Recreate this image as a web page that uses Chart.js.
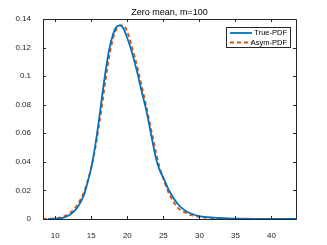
<!DOCTYPE html>
<html>
<head>
<meta charset="utf-8">
<script src="https://cdn.jsdelivr.net/npm/chart.js@4.4.1/dist/chart.umd.min.js"></script>
<style>
  html, body { margin: 0; padding: 0; background: #fff; }
  #wrap { width: 327px; height: 245px; }
</style>
</head>
<body>
<div id="wrap"><canvas id="myChart" width="327" height="245"></canvas></div>
<script>
// Chart values
const titleText = 'Zero mean, m=100';
const seriesNames = ['True-PDF', 'Asym-PDF'];

const trueX = [9, 10, 11, 12, 13, 14, 14.5, 15, 15.5, 16, 16.5, 17, 17.5, 18, 18.5, 19, 19.5, 20, 20.5, 21, 21.5, 22, 22.5, 23, 23.5, 24, 24.5, 25, 25.5, 26, 27, 28, 29, 30, 32, 34, 36, 38, 40, 43.4];
const trueY = [0, 0.0002, 0.0008, 0.0028, 0.0075, 0.017, 0.026, 0.036, 0.050, 0.067, 0.086, 0.104, 0.119, 0.129, 0.1345, 0.1355, 0.133, 0.1265, 0.119, 0.110, 0.100, 0.089, 0.079, 0.067, 0.054, 0.042, 0.034, 0.029, 0.023, 0.018, 0.0105, 0.006, 0.0035, 0.002, 0.0009, 0.0004, 0.0002, 0.0001, 0.00005, 0.00001];

const asymX = [8.3, 9, 10, 11, 12, 13, 14, 14.5, 15, 15.5, 16, 16.5, 17, 17.5, 18, 18.5, 19, 19.5, 20, 20.5, 21, 21.5, 22, 22.5, 23, 23.5, 24, 24.5, 25, 25.5, 26, 27, 28, 29, 30, 32, 34, 36, 40, 43.4];
const asymY = [0, 0.0001, 0.0005, 0.0015, 0.004, 0.0095, 0.019, 0.027, 0.036, 0.048, 0.063, 0.080, 0.098, 0.114, 0.126, 0.133, 0.1355, 0.1355, 0.131, 0.123, 0.114, 0.104, 0.093, 0.082, 0.070, 0.058, 0.046, 0.036, 0.028, 0.021, 0.0155, 0.008, 0.0045, 0.0025, 0.0015, 0.0006, 0.0002, 0.0001, 0, 0];

const xTicks = [10, 15, 20, 25, 30, 35, 40];
const yTicks = [0, 0.02, 0.04, 0.06, 0.08, 0.1, 0.12, 0.14];
const xRange = [8.3, 43.4];
const yRange = [0, 0.14];

const axisColor = '#262626';
const fontFamily = '"Liberation Sans", Arial, sans-serif';

function toPoints(xs, ys) {
    return xs.map((x, i) => ({ x: x, y: ys[i] }));
}

// box, inward ticks, title and legend drawn like MATLAB
const matlabAxes = {
    id: 'matlabAxes',
    afterDraw(chart) {
        const ctx = chart.ctx;
        const a = chart.chartArea;
        const xs = chart.scales.x;
        const ys = chart.scales.y;
        ctx.save();
        ctx.strokeStyle = axisColor;
        ctx.lineWidth = 1;
        ctx.beginPath();
        ctx.rect(Math.round(a.left) + 0.5, Math.round(a.top) + 0.5, Math.round(a.right - a.left), Math.round(a.bottom - a.top));
        ctx.stroke();

        const tl = 3;
        ctx.beginPath();
        xTicks.forEach(v => {
            const px = Math.round(xs.getPixelForValue(v)) + 0.5;
            ctx.moveTo(px, a.bottom); ctx.lineTo(px, a.bottom - tl);
            ctx.moveTo(px, a.top); ctx.lineTo(px, a.top + tl);
        });
        yTicks.forEach(v => {
            const py = Math.round(ys.getPixelForValue(v)) + 0.5;
            ctx.moveTo(a.left, py); ctx.lineTo(a.left + tl, py);
            ctx.moveTo(a.right, py); ctx.lineTo(a.right - tl, py);
        });
        ctx.stroke();

        // title
        ctx.fillStyle = '#000';
        ctx.font = '9px ' + fontFamily;
        ctx.textAlign = 'center';
        ctx.textBaseline = 'bottom';
        ctx.fillText(titleText, (a.left + a.right) / 2, a.top - 2);

        // legend
        const lx = 226, ly = 27, lw = 64, lh = 20;
        ctx.fillStyle = '#fff';
        ctx.fillRect(lx, ly, lw, lh);
        ctx.strokeStyle = axisColor;
        ctx.strokeRect(lx + 0.5, ly + 0.5, lw, lh);
        ctx.font = '7.5px ' + fontFamily;
        ctx.textAlign = 'right';
        ctx.textBaseline = 'middle';
        chart.data.datasets.forEach((ds, i) => {
            const yy = ly + 6 + i * 9.5;
            ctx.beginPath();
            ctx.strokeStyle = ds.borderColor;
            ctx.lineWidth = ds.borderWidth;
            ctx.setLineDash(ds.borderDash || []);
            ctx.moveTo(lx + 4, yy);
            ctx.lineTo(lx + 26, yy);
            ctx.stroke();
            ctx.setLineDash([]);
            ctx.fillStyle = '#000';
            ctx.fillText(ds.label, lx + lw - 3, yy);
        });
        ctx.restore();
    }
};

function renderChart() {
    const ctx = document.getElementById('myChart').getContext('2d');
    new Chart(ctx, {
        type: 'line',
        data: {
            datasets: [{
                label: seriesNames[0],
                data: toPoints(trueX, trueY),
                borderColor: '#0072BD',
                borderWidth: 1.8,
                pointRadius: 0,
                fill: false,
                cubicInterpolationMode: 'monotone'
            }, {
                label: seriesNames[1],
                data: toPoints(asymX, asymY),
                borderColor: '#D95319',
                borderWidth: 1.8,
                borderDash: [4, 3],
                pointRadius: 0,
                fill: false,
                cubicInterpolationMode: 'monotone'
            }]
        },
        options: {
            responsive: false,
            animation: false,
            layout: { padding: { left: 0, right: 31, top: 19, bottom: 0 } },
            scales: {
                x: {
                    type: 'linear',
                    min: xRange[0],
                    max: xRange[1],
                    afterBuildTicks: s => { s.ticks = xTicks.map(v => ({ value: v })); },
                    afterFit: s => { s.height = 26; },
                    grid: { display: false },
                    border: { display: false },
                    ticks: { color: axisColor, font: { size: 8, family: fontFamily }, padding: 4, maxRotation: 0 }
                },
                y: {
                    min: yRange[0],
                    max: yRange[1],
                    afterBuildTicks: s => { s.ticks = yTicks.map(v => ({ value: v })); },
                    afterFit: s => { s.width = 43; },
                    grid: { display: false },
                    border: { display: false },
                    ticks: { color: axisColor, font: { size: 8, family: fontFamily }, padding: 4, callback: v => String(v) }
                }
            },
            plugins: {
                legend: { display: false },
                title: { display: false },
                tooltip: { enabled: false }
            }
        },
        plugins: [matlabAxes]
    });
}

window.onload = renderChart;
</script>
</body>
</html>
